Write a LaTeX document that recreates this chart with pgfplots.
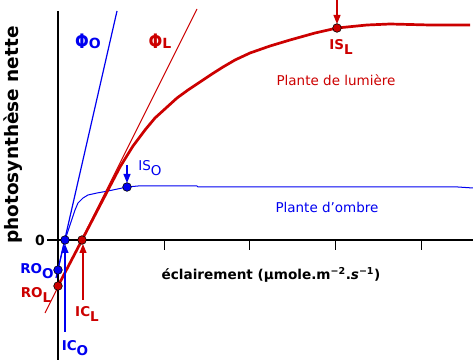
\documentclass[border=0pt]{standalone}
\usepackage{pgfplots}
\pgfplotsset{compat=1.18}
\usetikzlibrary{arrows.meta}
\usepackage{fontspec}
\setmainfont{DejaVu Sans}
\definecolor{rd}{RGB}{204,0,0}
\definecolor{bl}{RGB}{0,0,240}
\newcommand{\sub}[1]{\raisebox{-5bp}{#1}}
\begin{document}
\begin{tikzpicture}
\begin{axis}[width=473bp,height=360bp,scale only axis,
  xmin=-58,xmax=415,ymin=-120,ymax=240,hide axis,clip=false]
% axes
\addplot[black,line width=1.2bp] coordinates {(0,229) (0,-120)};
\addplot[black,line width=1.2bp] coordinates {(-11,0) (415,0)};
\addplot[black,line width=1bp] coordinates {(106,0) (106,-10)};
\addplot[black,line width=1bp] coordinates {(191,0) (191,-10)};
\addplot[black,line width=1bp] coordinates {(277,0) (277,-10)};
\addplot[black,line width=1bp] coordinates {(363,0) (363,-10)};
% tangent lines
\addplot[rd,line width=0.9bp] coordinates {(-13,-73) (139,231)};
\addplot[bl,line width=1.2bp] coordinates {(-2,-38) (59,229)};
% shade plant
\addplot[bl,line width=1bp] coordinates {(0,-30) (7,0) (17,30) (20,37) (25,42) (30,45) (39,47) (50,49) (69,53) (80,54) (139,54) (140,53) (400,53) (415,52)};
% light plant
\addplot[rd,line width=2.7bp] coordinates {(0,-46) (24,0) (50,50) (62,73) (75,94) (87,110) (97,122) (108,132) (119,142) (130,150) (142,158) (154,166) (165,173) (177,180) (192,187) (212,194) (232,200) (257,207) (279,212) (309,215) (332,216) (372,215) (412,215)};
% arrows
\addplot[bl,line width=1.2bp,-{Triangle[length=9bp,width=7bp]}] coordinates {(7,-92) (7,-4)};
\addplot[rd,line width=1.2bp,-{Triangle[length=9bp,width=7bp]}] coordinates {(25,-60) (25,-4)};
\addplot[bl,line width=1.2bp,-{Triangle[length=9bp,width=7bp]}] coordinates {(69,75) (69,57)};
\addplot[rd,line width=1.2bp,-{Triangle[length=9bp,width=7bp]}] coordinates {(279,240) (279,216)};
% points
\addplot[only marks,mark=*,mark size=4.3bp,mark options={fill=bl,draw=black,line width=0.6bp}] coordinates {(0,-30) (7,0) (69,53)};
\addplot[only marks,mark=*,mark size=4.3bp,mark options={fill=rd,draw=black,line width=0.6bp}] coordinates {(0,-46) (24,0) (279,212)};
% labels
\node[bl,font={\fontsize{19bp}{19bp}\selectfont\bfseries}] at (axis cs:30,199) {\scalebox{0.85}[1.05]{Φ}{\fontsize{14bp}{14bp}\selectfont O}};
\node[rd,font={\fontsize{19bp}{19bp}\selectfont\bfseries}] at (axis cs:102,199) {\scalebox{0.85}[1.05]{Φ}{\fontsize{14bp}{14bp}\selectfont L}};
\node[font={\fontsize{14bp}{14bp}\selectfont\bfseries}] at (axis cs:-18,0) {0};
\node[bl,font={\fontsize{13.5bp}{14bp}\selectfont\bfseries}] at (axis cs:-21,-31) {RO\sub{O}};
\node[rd,font={\fontsize{13.5bp}{14bp}\selectfont\bfseries}] at (axis cs:-22,-55) {RO\sub{L}};
\node[rd,font={\fontsize{13.5bp}{14bp}\selectfont\bfseries}] at (axis cs:29,-74) {IC\sub{L}};
\node[bl,font={\fontsize{13.5bp}{14bp}\selectfont\bfseries}] at (axis cs:17,-108) {IC\sub{O}};
\node[bl,font={\fontsize{13.5bp}{14bp}\selectfont}] at (axis cs:92,72) {IS\sub{O}};
\node[rd,font={\fontsize{13.5bp}{14bp}\selectfont\bfseries}] at (axis cs:283,193) {IS\sub{L}};
\node[rd,font={\fontsize{13.5bp}{14bp}\selectfont}] at (axis cs:278,160) {Plante de lumière};
\node[bl,font={\fontsize{13.5bp}{14bp}\selectfont}] at (axis cs:269,33) {Plante d'ombre};
\node[font={\fontsize{13.6bp}{14bp}\selectfont\bfseries}] at (axis cs:213,-35) {éclairement (µmole.m\textsuperscript{−2}.\textit{s}\textsuperscript{−1})};
\node[rotate=90,font={\fontsize{18.5bp}{18.5bp}\selectfont\bfseries}] at (axis cs:-45,105) {photosynthèse nette};
\end{axis}
\pgfresetboundingbox
\path[use as bounding box] (current axis.south west) rectangle (current axis.north east);
\end{tikzpicture}
\end{document}
